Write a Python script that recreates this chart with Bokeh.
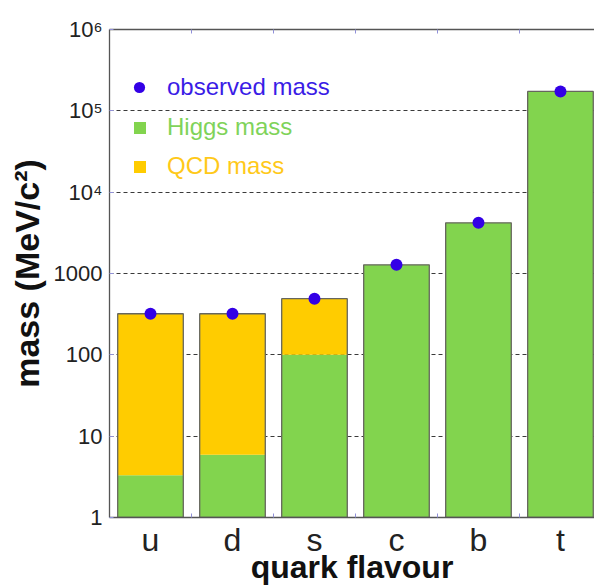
from bokeh.plotting import figure
from bokeh.models import (ColumnDataSource, Range1d, FixedTicker, LinearAxis,
                          Legend, LegendItem)
from bokeh.embed import file_html
from bokeh.resources import INLINE

# Quark masses in MeV/c^2
quarks = ["u", "d", "s", "c", "b", "t"]
observed_mass = [320, 320, 490, 1280, 4200, 173000]
higgs_mass = [3.3, 5.9, 100, 1280, 4200, 173000]

y_ticks = [1, 10, 100, 1000, 10000, 100000, 1000000]
y_tick_labels = ["1", "10", "100", "1000", "10⁴", "10⁵", "10⁶"]

GREEN = "#82d44e"
YELLOW = "#ffcc00"
BLUE = "#3300e6"
FONT = "Liberation Sans"

positions = list(range(1, len(quarks) + 1))
boundaries = [x + 0.5 for x in positions[:-1]]

src = ColumnDataSource(dict(x=positions, quark=quarks,
                            higgs=higgs_mass, observed=observed_mass))

p = figure(width=594, height=587, output_backend="svg", toolbar_location=None,
           x_range=Range1d(0.5, 6.415), y_range=Range1d(1, 1e6),
           y_axis_type="log",
           min_border_left=109, min_border_right=0,
           min_border_top=29, min_border_bottom=70)
p.outline_line_color = None
p.background_fill_color = "white"
p.border_fill_color = "white"

# stacked bars: Higgs part below, QCD part on top, one outline round the whole
higgs_r = p.vbar(x="x", width=0.8, bottom=1, top="higgs", source=src,
                 fill_color=GREEN, line_color=None)
qcd_r = p.vbar(x="x", width=0.8, bottom="higgs", top="observed", source=src,
               fill_color=YELLOW, line_color=None)
p.vbar(x="x", width=0.8, bottom=1, top="observed", source=src,
       fill_color=None, line_color="#66665e", line_width=1.3)
obs_r = p.scatter(x="x", y="observed", source=src, size=12,
                  fill_color=BLUE, line_color=None)

# grid
p.xgrid.visible = False
p.ygrid.grid_line_color = "#3a3a3a"
p.ygrid.grid_line_dash = "4 3"
p.ygrid.grid_line_width = 1
p.ygrid.minor_grid_line_color = None

# y axis
ya = p.yaxis[0]
ya.ticker = FixedTicker(ticks=y_ticks, minor_ticks=[])
ya.major_label_overrides = dict(zip(y_ticks, y_tick_labels))
ya.major_label_text_font = FONT
ya.major_label_text_font_size = "22px"
ya.major_label_text_color = "#222222"
ya.major_label_standoff = 7
ya.major_tick_in = 4
ya.major_tick_out = 0
ya.major_tick_line_color = "#9090d8"
ya.minor_tick_line_color = None
ya.axis_line_color = "#555555"
ya.axis_line_width = 1.3
ya.axis_label = "mass (MeV/c²)"
ya.axis_label_text_font = FONT
ya.axis_label_text_font_style = "bold"
ya.axis_label_text_font_size = "34px"
ya.axis_label_text_color = "#111111"
ya.axis_label_standoff = 5

# x axis: letters at bar centres, small ticks between bars
xa = p.xaxis[0]
xa.ticker = FixedTicker(ticks=positions, minor_ticks=boundaries)
xa.major_label_overrides = dict(zip(positions, quarks))
xa.major_label_text_font = FONT
xa.major_label_text_font_size = "32px"
xa.major_label_text_color = "#222222"
xa.major_label_standoff = 4
xa.major_tick_in = 0
xa.major_tick_out = 0
xa.minor_tick_in = 4
xa.minor_tick_out = 0
xa.minor_tick_line_color = "#9090d8"
xa.axis_line_color = "#555555"
xa.axis_line_width = 1.3
xa.axis_label = "quark flavour"
xa.axis_label_text_font = FONT
xa.axis_label_text_font_style = "bold"
xa.axis_label_text_font_size = "32px"
xa.axis_label_text_color = "#111111"
xa.axis_label_standoff = -12

# top border with the same between-bar ticks
top = LinearAxis(ticker=FixedTicker(ticks=[], minor_ticks=boundaries),
                 major_tick_in=0, major_tick_out=0,
                 minor_tick_in=4, minor_tick_out=0,
                 minor_tick_line_color="#9090d8",
                 axis_line_color="#555555", axis_line_width=1.3,
                 major_label_standoff=0)
p.add_layout(top, "above")


def key(renderer, label, colour, loc, glyph, standoff):
    lg = Legend(items=[LegendItem(label=label, renderers=[renderer])],
                location=loc, glyph_width=glyph, glyph_height=glyph,
                label_height=glyph, label_standoff=standoff,
                padding=0, margin=0, spacing=0,
                border_line_color=None, background_fill_alpha=0,
                label_text_font=FONT, label_text_font_size="24px",
                label_text_color=colour)
    p.add_layout(lg)


key(obs_r, "observed mass", "#3a1ce6", (16, 416), 28, 14)
key(higgs_r, "Higgs mass", "#7fd35a", (23, 376), 15, 20)
key(qcd_r, "QCD mass", "#ffc91a", (23, 337), 15, 20)

open("out.html", "w").write(file_html(p, INLINE))
